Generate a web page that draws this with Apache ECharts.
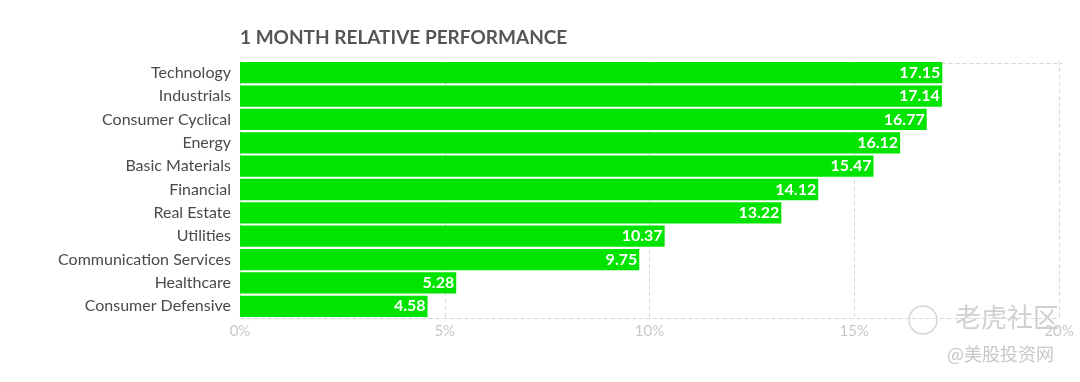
<!DOCTYPE html>
<html>
<head>
<meta charset="utf-8">
<script src="https://cdn.jsdelivr.net/npm/echarts@6/dist/echarts.min.js"></script>
<style>
html,body{margin:0;padding:0;background:#fff;}
#chart{width:1080px;height:382px;}
</style>
</head>
<body>
<div id="chart"></div>
<script>
const categories = ["Technology","Industrials","Consumer Cyclical","Energy","Basic Materials","Financial","Real Estate","Utilities","Communication Services","Healthcare","Consumer Defensive"];
const values = [17.15,17.14,16.77,16.12,15.47,14.12,13.22,10.37,9.75,5.28,4.58];
const xTicks = [0,5,10,15,20];
const titleText = "1 MONTH RELATIVE PERFORMANCE";

const chart = echarts.init(document.getElementById('chart'));
chart.setOption({
  animation:false,
  textStyle:{fontFamily:'Lato'},
  title:{text:titleText,left:235,top:23,textStyle:{fontFamily:'Lato',fontSize:19,fontWeight:'bold',color:'#555'}},
  grid:{left:240,right:21,top:61,bottom:64,containLabel:false},
  xAxis:{type:'value',min:xTicks[0],max:xTicks[xTicks.length-1],interval:5,
    axisLine:{show:true,lineStyle:{type:[4,3],color:'#d8d8d8',width:1}},axisTick:{show:false},
    axisLabel:{formatter:'{value}%',color:'#c8c8c8',fontSize:15,margin:6},
    splitLine:{show:true,lineStyle:{type:[4,3],color:'#d8d8d8',width:1}}},
  yAxis:{type:'category',data:categories,inverse:true,
    axisLine:{show:false},axisTick:{show:false},
    axisLabel:{color:'#4a4a4a',fontSize:16,margin:9},
    splitLine:{show:false}},
  series:[{type:'bar',data:values,barCategoryGap:'9%',
    itemStyle:{color:'#00e400'},
    label:{show:true,position:'insideRight',distance:2,color:'#fff',fontWeight:'bold',fontSize:16,fontFamily:'Lato',
      formatter:p=>p.value.toFixed(2)}
  }],
  graphic:[
    {type:'rect',left:239,top:61,shape:{width:821,height:0},style:{fill:'none',stroke:'#d8d8d8',lineDash:[4,3]}},
    {type:'text',left:955,top:304,style:{text:'老虎社区',fill:'#d0d0d0',font:'26px "Noto Sans CJK SC"'}},
    {type:'circle',shape:{cx:923,cy:320,r:14},style:{fill:'none',stroke:'#d6d6d6',lineWidth:1.5}},
    {type:'text',left:947,top:345,style:{text:'@美股投资网',fill:'#c8c8c8',font:'18px "Noto Sans CJK SC"'}}
  ]
});
</script>
</body>
</html>
